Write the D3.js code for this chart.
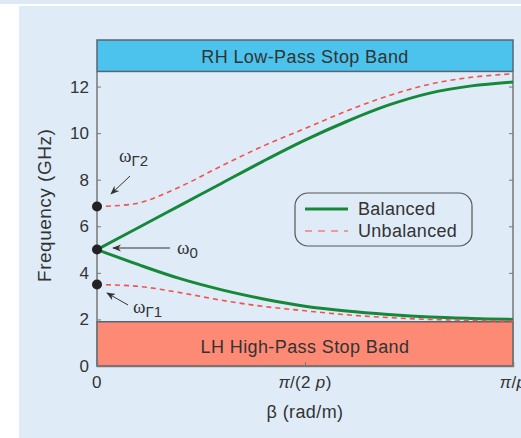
<!DOCTYPE html>
<html><head>
<meta charset="utf-8">
<title>CRLH dispersion</title>
<style>
  body, html { margin: 0; padding: 0; background: #fff; }
  svg { display: block; font-family: 'Liberation Sans', Arial, sans-serif; }
  .tick text { font-size: 17px; fill: #333; }
</style>
<script src="https://d3js.org/d3.v7.min.js"></script>
</head>
<body>
<div id="chart"></div>
<script>
// beta as fraction of pi/p
const betaFrac = [0, 0.1, 0.2, 0.3, 0.4, 0.5, 0.6, 0.7, 0.8, 0.9, 1.0];
const balancedUpper   = [5.0, 5.95, 6.9, 7.85, 8.8, 9.7, 10.5, 11.2, 11.72, 12.03, 12.2];
const balancedLower   = [5.0, 4.35, 3.75, 3.27, 2.88, 2.57, 2.36, 2.21, 2.1, 2.04, 2.0];
const unbalancedUpper = [6.85, 7.0, 7.7, 8.6, 9.45, 10.2, 10.95, 11.6, 12.1, 12.4, 12.55];
const unbalancedLower = [3.5, 3.42, 3.15, 2.82, 2.56, 2.37, 2.2, 2.08, 2.0, 1.96, 1.93];
const yTicks = [0, 2, 4, 6, 8, 10, 12];
const xTicks = [0, 0.5, 1];
const rhBand = [12.65, 14];
const lhBand = [0, 1.9];
const points = [
  { f: 6.85, name: "Γ2" },
  { f: 5.0,  name: "0" },
  { f: 3.5,  name: "Γ1" }
];

const W = 521, H = 438;
const svg = d3.select("#chart").append("svg").attr("width", W).attr("height", H);

// background panel
svg.append("rect").attr("x", 0).attr("y", 0).attr("width", W).attr("height", 4).attr("fill", "#dde9f5");
svg.append("rect").attr("x", 19).attr("y", 6).attr("width", W - 19).attr("height", H - 6).attr("fill", "#dfecf8");

const x = d3.scaleLinear().domain([0, 1]).range([97, 513]);
const y = d3.scaleLinear().domain([0, 14]).range([366, 40]);

// stop bands
svg.append("rect")
  .attr("x", x(0)).attr("y", y(rhBand[1]))
  .attr("width", x(1) - x(0)).attr("height", y(rhBand[0]) - y(rhBand[1]))
  .attr("fill", "#4cc3ec").attr("stroke", "#5a6470").attr("stroke-width", 1.5);
svg.append("rect")
  .attr("x", x(0)).attr("y", y(lhBand[1]))
  .attr("width", x(1) - x(0)).attr("height", y(lhBand[0]) - y(lhBand[1]))
  .attr("fill", "#fd8a74").attr("stroke", "#5a6470").attr("stroke-width", 1.5);

svg.append("text").attr("x", x(0.5)).attr("y", 63).attr("text-anchor", "middle")
  .attr("font-size", 18).attr("letter-spacing", 0.4).attr("fill", "#333").text("RH Low-Pass Stop Band");
svg.append("text").attr("x", x(0.5)).attr("y", 353).attr("text-anchor", "middle")
  .attr("font-size", 18).attr("letter-spacing", 0.4).attr("fill", "#333").text("LH High-Pass Stop Band");

// axes
const yAxis = d3.axisLeft(y).tickValues(yTicks).tickSize(-4).tickPadding(8);
const gy = svg.append("g").attr("transform", `translate(${x(0)},0)`).call(yAxis);
const gyr = svg.append("g").attr("transform", `translate(${x(1)},0)`)
  .call(d3.axisRight(y).tickValues(yTicks).tickSize(-4).tickFormat(""));
const xAxis = d3.axisBottom(x).tickValues(xTicks).tickSize(-4).tickPadding(6).tickFormat("");
const gx = svg.append("g").attr("transform", `translate(0,${y(0)})`).call(xAxis);
[gy, gyr, gx].forEach(g => {
  g.select(".domain").attr("stroke", "#777").attr("stroke-width", 1.5);
  g.selectAll(".tick line").attr("stroke", "#777");
});
gy.select(".domain").attr("d", `M0,${y(0)}V${y(rhBand[0])}`);
gyr.select(".domain").attr("d", `M0,${y(0)}V${y(rhBand[0])}`);

// x tick labels
const xl = svg.append("g").attr("font-size", 17).attr("fill", "#333").attr("letter-spacing", 0.3);
xl.append("text").attr("x", x(0)).attr("y", 388).attr("text-anchor", "middle").text("0");
const t2 = xl.append("text").attr("x", x(0.5)).attr("y", 388).attr("text-anchor", "middle");
t2.append("tspan").attr("font-style", "italic").text("π");
t2.append("tspan").text("/(2 ");
t2.append("tspan").attr("font-style", "italic").text("p");
t2.append("tspan").text(")");
const t3 = xl.append("text").attr("x", x(1)).attr("y", 388).attr("text-anchor", "middle");
t3.append("tspan").attr("font-style", "italic").text("π");
t3.append("tspan").text("/");
t3.append("tspan").attr("font-style", "italic").text("p");

svg.append("text").attr("x", x(0.5)).attr("y", 418).attr("text-anchor", "middle")
  .attr("font-size", 18).attr("letter-spacing", 0.4).attr("fill", "#333").text("β (rad/m)");
svg.append("text").attr("transform", `translate(51,${y(6.9)}) rotate(-90)`)
  .attr("text-anchor", "middle").attr("font-size", 19).attr("letter-spacing", 0.5)
  .attr("fill", "#333").text("Frequency (GHz)");

// curves
const line = d3.line().x((d, i) => x(betaFrac[i])).y(d => y(d)).curve(d3.curveCatmullRom.alpha(0.5));
[balancedUpper, balancedLower].forEach(s => {
  svg.append("path").attr("d", line(s)).attr("fill", "none")
    .attr("stroke", "#17873a").attr("stroke-width", 3);
});
[unbalancedUpper, unbalancedLower].forEach(s => {
  svg.append("path").attr("d", line(s)).attr("fill", "none")
    .attr("stroke", "#f2524a").attr("stroke-width", 1.6).attr("stroke-dasharray", "5,4");
});

// markers
svg.selectAll("circle.pt").data(points).enter().append("circle")
  .attr("class", "pt").attr("cx", x(0)).attr("cy", d => y(d.f)).attr("r", 5).attr("fill", "#222");

// annotations
svg.append("defs").append("marker").attr("id", "ah")
  .attr("viewBox", "0 0 10 10").attr("refX", 9).attr("refY", 5)
  .attr("markerWidth", 9).attr("markerHeight", 9).attr("orient", "auto")
  .append("path").attr("d", "M0,1L10,5L0,9L3,5Z").attr("fill", "#333");
const arrows = [
  [130, 176, 111, 194],
  [170, 248, 113, 248],
  [128, 305, 107, 293]
];
arrows.forEach(a => {
  svg.append("line").attr("x1", a[0]).attr("y1", a[1]).attr("x2", a[2]).attr("y2", a[3])
    .attr("stroke", "#333").attr("stroke-width", 1).attr("marker-end", "url(#ah)");
});
const labelPos = [[119, 162], [177, 254], [133, 313]];
points.forEach((p, i) => {
  const t = svg.append("text").attr("x", labelPos[i][0]).attr("y", labelPos[i][1])
    .attr("font-family", "'Liberation Serif', serif").attr("font-size", 19).attr("fill", "#333");
  t.append("tspan").text("ω");
  t.append("tspan").attr("dy", 4).attr("font-size", 15)
    .attr("font-family", "'Liberation Sans', Arial, sans-serif").text(p.name);
});

// legend
const lg = svg.append("g");
lg.append("rect").attr("x", 295).attr("y", 193).attr("width", 177).attr("height", 53)
  .attr("rx", 13).attr("fill", "none").attr("stroke", "#555").attr("stroke-width", 1.2);
lg.append("line").attr("x1", 305).attr("x2", 348).attr("y1", 209).attr("y2", 209)
  .attr("stroke", "#17873a").attr("stroke-width", 3);
lg.append("line").attr("x1", 305).attr("x2", 348).attr("y1", 231).attr("y2", 231)
  .attr("stroke", "#f47f78").attr("stroke-width", 1.6).attr("stroke-dasharray", "7,6");
lg.append("text").attr("x", 358).attr("y", 215).attr("font-size", 18).attr("letter-spacing", 0.3)
  .attr("fill", "#333").text("Balanced");
lg.append("text").attr("x", 358).attr("y", 237).attr("font-size", 18).attr("letter-spacing", 0.3)
  .attr("fill", "#333").text("Unbalanced");
</script>
</body></html>
